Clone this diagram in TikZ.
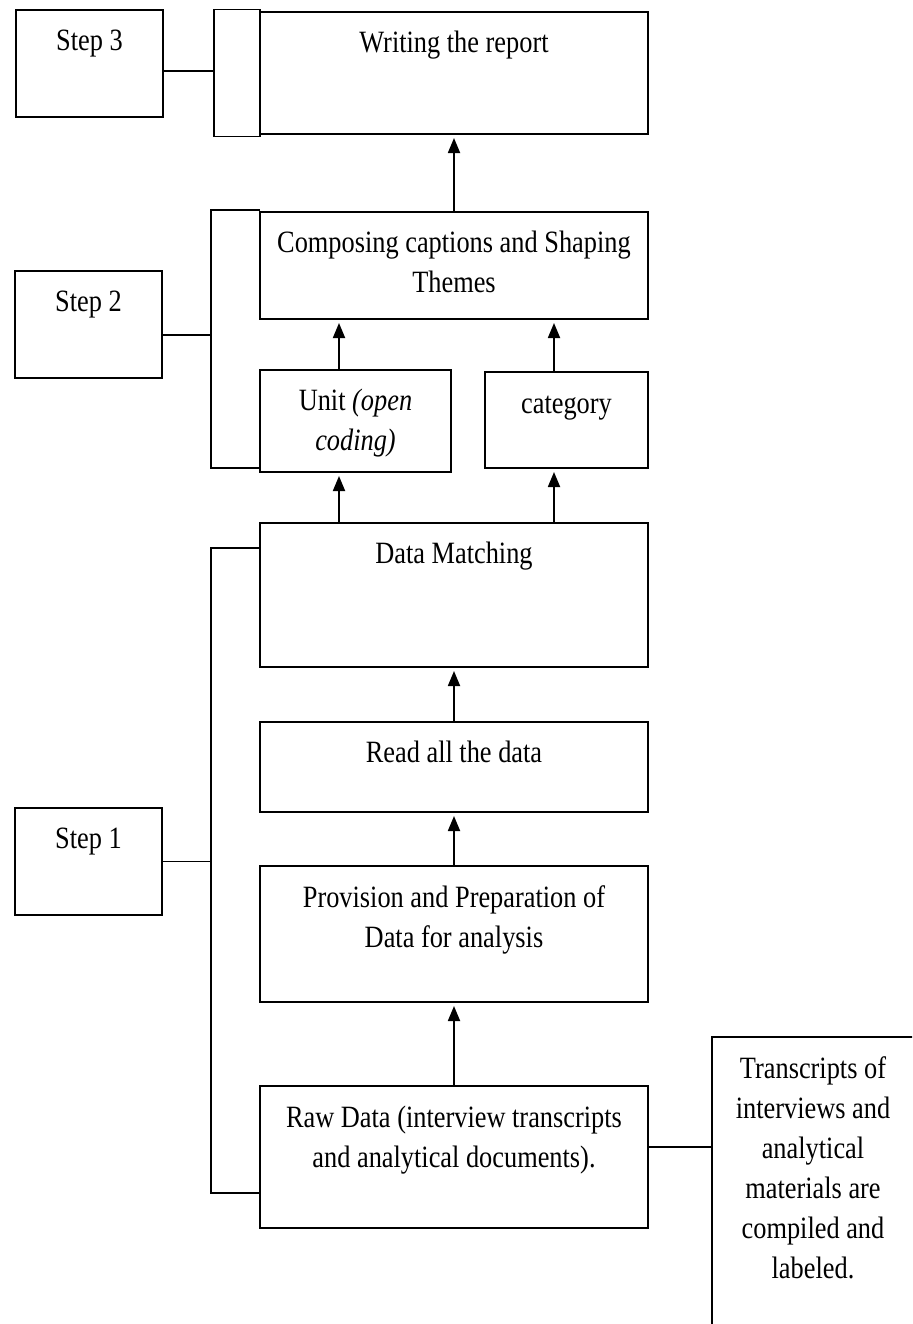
\documentclass[tikz,border=0pt]{standalone}
\usepackage{fontspec}
\setmainfont{Liberation Serif}[FakeStretch=0.85]
\usetikzlibrary{arrows.meta, positioning}

\begin{document}
\begin{tikzpicture}[
  font=\fontsize{15.5pt}{20pt}\selectfont,
  box/.style={draw, line width=0.9pt, minimum width=194pt, inner sep=0pt, outer sep=0pt},
  stepbox/.style={draw, line width=0.9pt, minimum width=73.5pt, minimum height=53.5pt, inner sep=0pt, outer sep=0pt},
  txt/.style={anchor=base, inner sep=0pt, align=center},
  link/.style={line width=0.9pt},
  arrow/.style={-{Triangle[length=7.5pt,width=6pt]}, line width=0.9pt, shorten >=2pt}
]
\useasboundingbox (0,0) rectangle (456pt,-662pt);
\clip (0,0) rectangle (456pt,-662pt);

\node[box, minimum height=61pt] (report) at (227pt,-36.5pt) {};
\node[box, below=39pt of report, minimum height=53.5pt] (themes) {};
\node[box, below=25.5pt of themes.south west, anchor=north west, minimum width=95.5pt, minimum height=51pt] (unit) {};
\node[box, below=26.5pt of themes.south east, anchor=north east, minimum width=81.5pt, minimum height=48pt] (category) {};
\node[box, below=102pt of themes, minimum height=72pt] (matching) {};
\node[box, below=27.5pt of matching, minimum height=45pt] (readall) {};
\node[box, below=27pt of readall, minimum height=68pt] (provision) {};
\node[box, below=42pt of provision, minimum height=71pt] (rawdata) {};
\node[box, left=0pt of report, minimum width=23pt, minimum height=63.5pt] (bracket3) {};
\node[box, anchor=north west, minimum width=101pt, minimum height=150pt] (compiled) at (356pt,-518.5pt) {};

\node[stepbox] (step3) at (44.75pt,-31.75pt) {};
\node[stepbox] (step2) at (44.25pt,-162.25pt) {};
\node[stepbox] (step1) at (44.25pt,-430.75pt) {};

\node[txt] (reportT) at ([yshift=-20pt]report.north) {Writing the report};
\node[txt] (themesT) at ([yshift=-40pt]themes.north) {Composing captions and Shaping\\Themes};
\node[txt] (unitT) at ([yshift=-40pt]unit.north) {Unit \textit{(open}\\\textit{coding)}};
\node[txt] (categoryT) at ([yshift=-20.5pt]category.north) {category};
\node[txt] (matchingT) at ([yshift=-20pt]matching.north) {Data Matching};
\node[txt] (readallT) at ([yshift=-20pt]readall.north) {Read all the data};
\node[txt] (provisionT) at ([yshift=-40.5pt]provision.north) {Provision and Preparation of\\Data for analysis};
\node[txt] (rawdataT) at ([yshift=-40.5pt]rawdata.north) {Raw Data (interview transcripts\\and analytical documents).};
\node[txt] (compiledT) at ([yshift=-120.5pt]compiled.north) {Transcripts of\\interviews and\\analytical\\materials are\\compiled and\\labeled.};
\node[txt] (step3T) at ([yshift=-20pt]step3.north) {Step 3};
\node[txt] (step2T) at ([yshift=-20pt]step2.north) {Step 2};
\node[txt] (step1T) at ([yshift=-20pt]step1.north) {Step 1};

\coordinate (b2) at ([xshift=-24.5pt,yshift=1pt]themes.north west);
\coordinate (b1) at ([xshift=-24.5pt,yshift=-12.5pt]matching.north west);
\draw[link] ([yshift=1pt]themes.north west) -- (b2) |- ([yshift=2pt]unit.south west);
\draw[link] ([yshift=-12.5pt]matching.north west) -- (b1) |- ([yshift=-53.5pt]rawdata.north west);
\draw[link] ([yshift=-3.75pt]step3.east) -- ([yshift=-3.75pt]step3.east -| bracket3.west);
\draw[link] ([yshift=-5.25pt]step2.east) -- ([yshift=-5.25pt]step2.east -| b2);
\draw[link] (step1.east) -- (step1.east -| b1);
\draw[link] ([yshift=5pt]rawdata.east) -- ([yshift=5pt]rawdata.east -| compiled.west);

\draw[arrow] (rawdata) -- (provision);
\draw[arrow] (provision) -- (readall);
\draw[arrow] (readall) -- (matching);
\draw[arrow] ([xshift=-8.25pt]unit.south |- matching.north) -- ([xshift=-8.25pt]unit.south);
\draw[arrow] ([xshift=-6.25pt]category.south |- matching.north) -- ([xshift=-6.25pt]category.south);
\draw[arrow] ([xshift=-8.25pt]unit.north) -- ([xshift=-8.25pt]unit.north |- themes.south);
\draw[arrow] ([xshift=-6.25pt]category.north) -- ([xshift=-6.25pt]category.north |- themes.south);
\draw[arrow] (themes) -- (report);
\end{tikzpicture}
\end{document}
